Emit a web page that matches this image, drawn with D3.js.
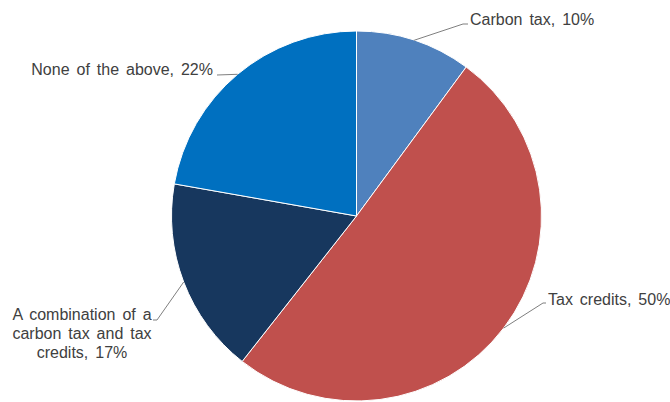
<!DOCTYPE html>
<html>
<head>
<meta charset="utf-8">
<script src="https://cdn.jsdelivr.net/npm/d3@7"></script>
<style>
  html, body { margin: 0; padding: 0; background: #fff; }
  svg { display: block; }
  .lbl { font-family: "Liberation Sans", Arial, sans-serif; font-size: 16px; fill: #404040; word-spacing: 2.5px; }
</style>
</head>
<body>
<svg id="chart" width="670" height="402"></svg>
<script>
// Survey responses: preferred policy instrument
const categories = ["Carbon tax", "Tax credits", "A combination of a carbon tax and tax credits", "None of the above"];
const shares = [10, 50, 17, 22];
const labelLines = [
  ["Carbon tax, 10%"],
  ["Tax credits, 50%"],
  ["A combination of a", "carbon tax and tax", "credits, 17%"],
  ["None of the above, 22%"]
];
const colors = ["#4F81BD", "#C0504D", "#17375E", "#0070C0"];

const W = 670, H = 402;
const cx = 356.5, cy = 216, R = 185;

const svg = d3.select("#chart");
const g = svg.append("g").attr("transform", `translate(${cx},${cy})`);

const pie = d3.pie().sort(null).value(d => d)(shares);
const arc = d3.arc().innerRadius(0).outerRadius(R);

g.selectAll("path.slice")
  .data(pie)
  .join("path")
  .attr("class", "slice")
  .attr("d", arc)
  .attr("fill", (d, i) => colors[i])
  .attr("stroke", "#fff")
  .attr("stroke-width", 1);

// Label placement (layout): elbow of the leader, end of leader, text baseline
const layout = [
  { elbow: [463, 24], end: [468, 24], text: [470, 25], anchor: "start" },
  { elbow: [543, 303], end: [546, 303], text: [548, 305], anchor: "start" },
  { elbow: [157, 320], end: [153, 320], text: [82, 320], anchor: "middle" },
  { elbow: null, end: [217, 75], text: [213, 75], anchor: "end" }
];

const lines = svg.append("g");
const texts = svg.append("g");

pie.forEach((d, i) => {
  const a = (d.startAngle + d.endAngle) / 2;
  const px = cx + R * Math.sin(a);
  const py = cy - R * Math.cos(a);
  const L = layout[i];
  const pts = [[px, py]];
  if (L.elbow) pts.push(L.elbow);
  pts.push(L.end);
  lines.append("path")
    .attr("d", d3.line()(pts))
    .attr("fill", "none")
    .attr("stroke", "#7f7f7f")
    .attr("stroke-width", 1);

  const t = texts.append("text")
    .attr("class", "lbl")
    .attr("text-anchor", L.anchor)
    .attr("x", L.text[0])
    .attr("y", L.text[1]);
  labelLines[i].forEach((s, k) => {
    t.append("tspan")
      .attr("x", L.text[0])
      .attr("dy", k === 0 ? 0 : 19)
      .text(s);
  });
});
</script>
</body>
</html>
